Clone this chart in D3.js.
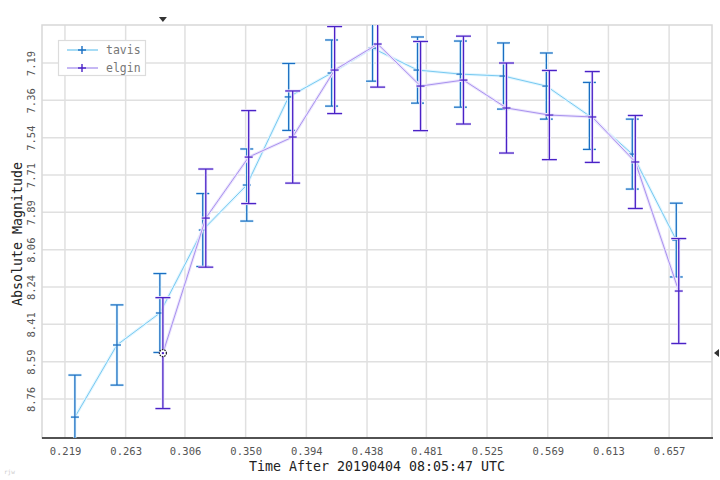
<!DOCTYPE html>
<html><head><meta charset="utf-8">
<script src="https://cdn.jsdelivr.net/npm/d3@7"></script>
<style>body{margin:0;background:#fff}svg{display:block}</style>
</head><body>
<svg id="c" width="720" height="480"></svg>
<script>
const xTicks = [0.219,0.263,0.306,0.350,0.394,0.438,0.481,0.525,0.569,0.613,0.657];
const xTickLabels = ["0.219","0.263","0.306","0.350","0.394","0.438","0.481","0.525","0.569","0.613","0.657"];
const yTicks = [7.19,7.365,7.54,7.715,7.89,8.065,8.24,8.415,8.59,8.765];
const yTickLabels = ["7.19","7.36","7.54","7.71","7.89","8.06","8.24","8.41","8.59","8.76"];

const tavisT = [0.2262,0.2567,0.2878,0.3189,0.3508,0.3812,0.4123,0.4420,0.4746,0.5057,0.5369,0.5680,0.5992,0.6303,0.6622];
const tavisMag = [8.850,8.512,8.362,7.973,7.762,7.349,7.237,7.120,7.223,7.242,7.251,7.298,7.438,7.617,8.020];
const tavisErr = [0.197,0.188,0.185,0.171,0.169,0.157,0.155,0.155,0.155,0.155,0.155,0.155,0.157,0.164,0.173];

const elginT = [0.2900,0.3211,0.3522,0.3841,0.4145,0.4457,0.4768,0.5079,0.5391,0.5702,0.6013,0.6325,0.6640];
const elginMag = [8.550,7.917,7.631,7.537,7.223,7.101,7.298,7.270,7.401,7.434,7.443,7.654,8.259];
const elginErr = [0.260,0.230,0.218,0.216,0.204,0.202,0.209,0.206,0.211,0.209,0.213,0.218,0.246];

const seriesNames = ["tavis","elgin"];
const xTitle = "Time After 20190404 08:05:47 UTC";
const yTitle = "Absolute Magnitude";

const L=42,R=712,T=25,B=438;
const x = d3.scaleLinear().domain([0.20235,0.6881]).range([L,R]);
const y = d3.scaleLinear().domain([7.0118,8.948]).range([T,B]);
const svg = d3.select("#c");
const mono = "'DejaVu Sans Mono', monospace";

const g = svg.append("g");
g.selectAll(".gx").data(xTicks).enter().append("line")
  .attr("x1",d=>x(d)).attr("x2",d=>x(d)).attr("y1",T).attr("y2",B)
  .attr("stroke","#e0e0e0").attr("stroke-width",1.5);
g.selectAll(".gy").data(yTicks).enter().append("line")
  .attr("x1",L).attr("x2",R).attr("y1",d=>y(d)).attr("y2",d=>y(d))
  .attr("stroke","#e0e0e0").attr("stroke-width",1.5);
g.append("rect").attr("x",L).attr("y",T).attr("width",R-L).attr("height",B-T)
  .attr("fill","none").attr("stroke","#d8d8d8").attr("stroke-width",1.5);

const xAxis = d3.axisBottom(x).tickValues(xTicks).tickFormat((d,i)=>xTickLabels[i]).tickSize(0).tickPadding(10);
const ax = svg.append("g").attr("transform",`translate(0,${B})`).call(xAxis);
ax.select(".domain").attr("stroke","#222").attr("stroke-width",1.5).attr("d",`M${L},0H${R+1}`);
ax.selectAll("text").attr("font-family",mono).attr("font-size",10.5).attr("fill","#555");

const yAxis = d3.axisLeft(y).tickValues(yTicks).tickFormat((d,i)=>yTickLabels[i]).tickSize(0);
const ay = svg.append("g").attr("transform",`translate(${L},0)`).call(yAxis);
ay.select(".domain").remove();
ay.selectAll("text").attr("font-family",mono).attr("font-size",10.5).attr("fill","#555")
  .attr("x",null).attr("dy",null).attr("text-anchor","middle")
  .attr("transform","translate(-7,0) rotate(-90)")
  .attr("y",0);

svg.append("text").attr("x",377).attr("y",471).attr("text-anchor","middle")
  .attr("font-family",mono).attr("font-size",13.3).attr("fill","#222").text(xTitle);
svg.append("text").attr("transform","translate(22,234) rotate(-90)").attr("text-anchor","middle")
  .attr("font-family",mono).attr("font-size",13.3).attr("fill","#222").text(yTitle);

svg.append("clipPath").attr("id","pc").append("rect").attr("x",L).attr("y",T).attr("width",R-L).attr("height",B-T);
const plot = svg.append("g").attr("clip-path","url(#pc)");

const series = [
  {name:seriesNames[0], t:tavisT, m:tavisMag, e:tavisErr, line:"#6cc4ee", bar:"#1a6ec2", halo:"#e3f6ff", cap:13},
  {name:seriesNames[1], t:elginT, m:elginMag, e:elginErr, line:"#a088ec", bar:"#4a22c6", halo:"#ece6fd", cap:15}
];
const lineGen = d3.line().x(d=>x(d.t)).y(d=>y(d.m));
series.forEach(s=>{
  const pts = s.t.map((t,i)=>({t, m:s.m[i], e:s.e[i]}));
  const sg = plot.append("g");
  sg.append("path").datum(pts).attr("d",lineGen).attr("fill","none").attr("stroke",s.halo).attr("stroke-width",3);
  sg.append("path").datum(pts).attr("d",lineGen).attr("fill","none").attr("stroke",s.line).attr("stroke-width",0.9);
  [ [s.halo,3], [s.bar,1.3] ].forEach(([col,w])=>{
    const eb = sg.selectAll(null).data(pts).enter().append("g").attr("stroke",col).attr("stroke-width",w).attr("fill","none");
    eb.append("line").attr("x1",d=>x(d.t)).attr("x2",d=>x(d.t)).attr("y1",d=>y(d.m-d.e)).attr("y2",d=>y(d.m+d.e));
    eb.append("line").attr("x1",d=>x(d.t)-s.cap/2).attr("x2",d=>x(d.t)+s.cap/2).attr("y1",d=>y(d.m-d.e)).attr("y2",d=>y(d.m-d.e));
    eb.append("line").attr("x1",d=>x(d.t)-s.cap/2).attr("x2",d=>x(d.t)+s.cap/2).attr("y1",d=>y(d.m+d.e)).attr("y2",d=>y(d.m+d.e));
    eb.append("line").attr("x1",d=>x(d.t)-4).attr("x2",d=>x(d.t)+4).attr("y1",d=>y(d.m)).attr("y2",d=>y(d.m));
  });
});

const hx = x(elginT[0]), hy = y(elginMag[0]);
svg.append("circle").attr("cx",hx).attr("cy",hy).attr("r",3.5).attr("fill","#fff")
  .attr("stroke","#222").attr("stroke-width",1.2).attr("stroke-dasharray","1.5,1");
svg.append("circle").attr("cx",hx).attr("cy",hy).attr("r",1.2).attr("fill","#4a22c6");
svg.append("path").attr("d",`M${hx-4},17L${hx+4},17L${hx},22Z`).attr("fill","#333");
svg.append("path").attr("d",`M719,${hy-4}L719,${hy+4}L714,${hy}Z`).attr("fill","#333");

const lg = svg.append("g");
lg.append("rect").attr("x",58.5).attr("y",40.5).attr("width",87).attr("height",35)
  .attr("fill","#fff").attr("stroke","#dcdcdc").attr("stroke-width",1.2);
series.forEach((s,i)=>{
  const yy = 50 + i*18;
  lg.append("line").attr("x1",67).attr("x2",98).attr("y1",yy).attr("y2",yy).attr("stroke",s.line).attr("stroke-width",1.2);
  lg.append("line").attr("x1",78).attr("x2",86).attr("y1",yy).attr("y2",yy).attr("stroke",s.bar).attr("stroke-width",1.4);
  lg.append("line").attr("x1",82).attr("x2",82).attr("y1",yy-4).attr("y2",yy+4).attr("stroke",s.bar).attr("stroke-width",1.4);
  lg.append("text").attr("x",106).attr("y",yy+4).attr("font-family",mono).attr("font-size",11.5)
    .attr("fill","#777").text(s.name);
});

svg.append("text").attr("x",4).attr("y",474).attr("font-family",mono).attr("font-size",6).attr("fill","#ccc").text("rjw");
</script>
</body></html>
